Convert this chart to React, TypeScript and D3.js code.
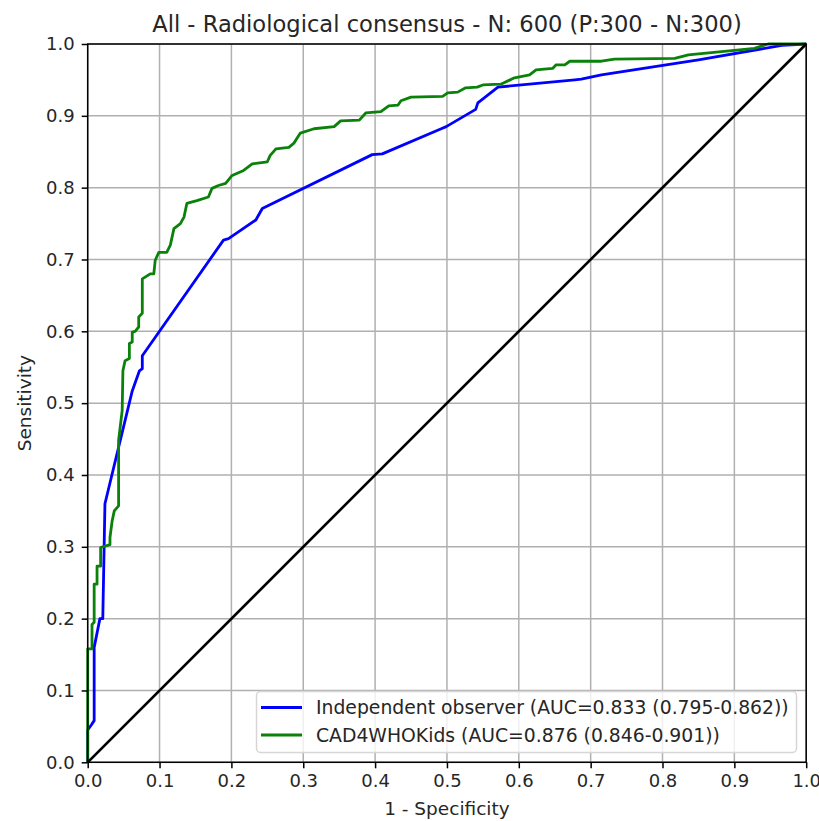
import { useEffect, useRef } from 'react';
import * as d3 from 'd3';

// ROC points: [1 - specificity, sensitivity]
const observerRoc: [number, number][] = [
  [0, 0], [0, 0.045], [0.005, 0.052], [0.009, 0.058], [0.009, 0.16], [0.017, 0.2],
  [0.021, 0.2], [0.024, 0.36], [0.062, 0.517], [0.072, 0.545], [0.076, 0.548],
  [0.076, 0.566], [0.189, 0.727], [0.196, 0.729], [0.234, 0.755], [0.243, 0.771],
  [0.396, 0.846], [0.41, 0.847], [0.492, 0.882], [0.499, 0.885], [0.54, 0.909],
  [0.543, 0.918], [0.571, 0.94], [0.678, 0.95], [0.687, 0.951], [0.715, 0.957],
  [0.85, 0.978], [0.966, 0.998], [1, 1],
];

const cadRoc: [number, number][] = [
  [0, 0], [0, 0.158], [0.006, 0.158], [0.006, 0.192], [0.009, 0.195], [0.009, 0.248],
  [0.013, 0.248], [0.013, 0.273], [0.018, 0.273], [0.018, 0.299], [0.031, 0.303],
  [0.031, 0.313], [0.034, 0.336], [0.037, 0.35], [0.043, 0.357], [0.043, 0.448],
  [0.048, 0.49], [0.049, 0.545], [0.052, 0.559], [0.058, 0.562], [0.058, 0.583],
  [0.062, 0.585], [0.062, 0.599], [0.066, 0.6], [0.071, 0.606], [0.071, 0.62],
  [0.076, 0.625], [0.076, 0.673], [0.087, 0.68], [0.092, 0.68], [0.094, 0.699],
  [0.099, 0.71], [0.11, 0.71], [0.115, 0.72], [0.12, 0.743], [0.129, 0.75],
  [0.134, 0.759], [0.138, 0.778], [0.152, 0.782], [0.168, 0.787], [0.173, 0.799],
  [0.182, 0.803], [0.192, 0.806], [0.201, 0.817], [0.217, 0.824], [0.229, 0.833],
  [0.25, 0.836], [0.254, 0.845], [0.262, 0.854], [0.28, 0.856], [0.287, 0.862],
  [0.296, 0.876], [0.315, 0.882], [0.343, 0.885], [0.352, 0.893], [0.378, 0.894],
  [0.387, 0.904], [0.408, 0.906], [0.419, 0.914], [0.432, 0.915], [0.436, 0.921],
  [0.45, 0.926], [0.494, 0.927], [0.501, 0.932], [0.515, 0.933], [0.526, 0.939],
  [0.542, 0.94], [0.55, 0.943], [0.575, 0.944], [0.594, 0.953], [0.615, 0.957],
  [0.624, 0.964], [0.647, 0.966], [0.652, 0.971], [0.664, 0.971], [0.671, 0.976],
  [0.715, 0.976], [0.733, 0.979], [0.817, 0.98], [0.836, 0.985], [0.868, 0.988],
  [0.9, 0.991], [0.928, 0.994], [0.947, 1], [1, 1],
];

const chanceLine: [number, number][] = [[0, 0], [1, 1]];

const seriesNames = [
  'Independent observer (AUC=0.833 (0.795-0.862))',
  'CAD4WHOKids (AUC=0.876 (0.846-0.901))',
];
const seriesColors = ['#0000ff', '#0a820a'];
const tickValues = d3.range(0, 11).map((i) => i / 10);

const titleText = 'All - Radiological consensus - N: 600 (P:300 - N:300)';
const xLabel = '1 - Specificity';
const yLabel = 'Sensitivity';

function App() {
  const ref = useRef<SVGSVGElement>(null);
  const width = 819;
  const height = 821;
  const left = 87.7;
  const top = 44;
  const plotW = 718.5;
  const plotH = 718.3;
  const font = 'DejaVu Sans, sans-serif';

  useEffect(() => {
    const svg = d3.select(ref.current);
    svg.selectAll('*').remove();

    const x = d3.scaleLinear().domain([0, 1]).range([left, left + plotW]);
    const y = d3.scaleLinear().domain([0, 1]).range([top + plotH, top]);

    svg.append('rect')
      .attr('width', width)
      .attr('height', height)
      .attr('fill', '#fff');

    // grid
    const grid = svg.append('g').attr('stroke', '#b0b0b0').attr('stroke-width', 1.5);
    grid.selectAll('line.v')
      .data(tickValues)
      .enter()
      .append('line')
      .attr('x1', (d) => x(d))
      .attr('x2', (d) => x(d))
      .attr('y1', top)
      .attr('y2', top + plotH);
    grid.selectAll('line.h')
      .data(tickValues)
      .enter()
      .append('line')
      .attr('y1', (d) => y(d))
      .attr('y2', (d) => y(d))
      .attr('x1', left)
      .attr('x2', left + plotW);

    const line = d3.line<[number, number]>()
      .x((d) => x(d[0]))
      .y((d) => y(d[1]));

    svg.append('path')
      .datum(observerRoc)
      .attr('d', line)
      .attr('fill', 'none')
      .attr('stroke', seriesColors[0])
      .attr('stroke-width', 2.8)
      .attr('stroke-linejoin', 'round');

    svg.append('path')
      .datum(cadRoc)
      .attr('d', line)
      .attr('fill', 'none')
      .attr('stroke', seriesColors[1])
      .attr('stroke-width', 2.8)
      .attr('stroke-linejoin', 'round');

    svg.append('path')
      .datum(chanceLine)
      .attr('d', line)
      .attr('fill', 'none')
      .attr('stroke', '#000')
      .attr('stroke-width', 2.6);

    // spines
    svg.append('rect')
      .attr('x', left)
      .attr('y', top)
      .attr('width', plotW)
      .attr('height', plotH)
      .attr('fill', 'none')
      .attr('stroke', '#000')
      .attr('stroke-width', 1.5);

    const xAxis = d3.axisBottom(x)
      .tickValues(tickValues)
      .tickFormat(d3.format('.1f'))
      .tickSize(6)
      .tickPadding(6);
    const yAxis = d3.axisLeft(y)
      .tickValues(tickValues)
      .tickFormat(d3.format('.1f'))
      .tickSize(6)
      .tickPadding(7);

    const gx = svg.append('g')
      .attr('transform', `translate(0, ${top + plotH})`)
      .call(xAxis);
    const gy = svg.append('g')
      .attr('transform', `translate(${left}, 0)`)
      .call(yAxis);
    [gx, gy].forEach((g) => {
      g.select('.domain').remove();
      g.selectAll('line').attr('stroke', '#000').attr('stroke-width', 1.5);
      g.selectAll('text')
        .attr('fill', '#262626')
        .style('font-family', font)
        .style('font-size', '18px');
    });

    // legend
    const lg = svg.append('g');
    lg.append('rect')
      .attr('x', 256.5)
      .attr('y', 691.5)
      .attr('width', 540)
      .attr('height', 61)
      .attr('rx', 4)
      .attr('fill', '#fff')
      .attr('fill-opacity', 0.8)
      .attr('stroke', '#d6d6d6')
      .attr('stroke-width', 1.5);
    seriesNames.forEach((name, i) => {
      const ly = 707.5 + i * 27.5;
      lg.append('line')
        .attr('x1', 261)
        .attr('x2', 302)
        .attr('y1', ly)
        .attr('y2', ly)
        .attr('stroke', seriesColors[i])
        .attr('stroke-width', 2.8);
      lg.append('text')
        .attr('x', 316)
        .attr('y', ly)
        .attr('dy', '0.35em')
        .attr('fill', '#262626')
        .style('font-family', font)
        .style('font-size', '18.8px')
        .text(name);
    });

    svg.append('text')
      .attr('x', left + plotW / 2)
      .attr('y', 32)
      .attr('text-anchor', 'middle')
      .attr('fill', '#262626')
      .style('font-family', font)
      .style('font-size', '22.6px')
      .text(titleText);

    svg.append('text')
      .attr('x', left + plotW / 2)
      .attr('y', 815)
      .attr('text-anchor', 'middle')
      .attr('fill', '#262626')
      .style('font-family', font)
      .style('font-size', '18.5px')
      .text(xLabel);

    svg.append('text')
      .attr('transform', `translate(31, ${top + plotH / 2}) rotate(-90)`)
      .attr('text-anchor', 'middle')
      .attr('fill', '#262626')
      .style('font-family', font)
      .style('font-size', '18.5px')
      .text(yLabel);
  }, []);

  return (
    <div style={{ position: 'absolute', left: 0, top: 0 }}>
      <svg width={width} height={height} ref={ref} style={{ display: 'block' }} />
    </div>
  );
}

export default App;
